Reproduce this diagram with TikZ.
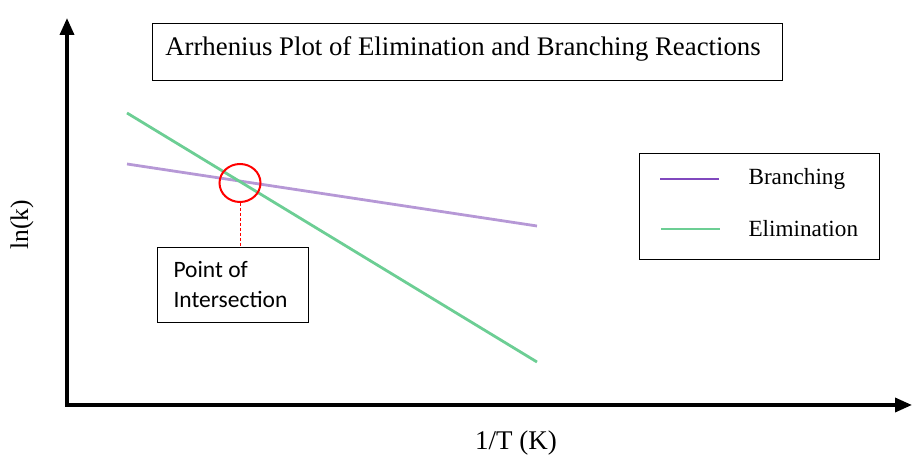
\documentclass[tikz,border=0pt]{standalone}
\usepackage{fontspec}
\setmainfont{Liberation Serif}
\newfontfamily\calib{Carlito}
\usetikzlibrary{arrows.meta,positioning,calc,shapes.geometric}

\definecolor{elimgreen}{RGB}{108,206,148}
\definecolor{branchpurple}{RGB}{182,152,214}
\definecolor{legpurple}{RGB}{128,72,190}

\begin{document}
\begin{tikzpicture}[
    x=1pt, y=1pt,
    axis/.style={line width=3.5pt,-{Triangle[length=17pt,width=14pt]}},
    labelbox/.style={draw,line width=1pt,inner sep=0pt,anchor=north west},
    branch/.style={branchpurple,line width=2.8pt},
    elim/.style={elimgreen,line width=2.8pt},
    marker/.style={draw=red,line width=2pt,ellipse,minimum width=41pt,minimum height=38pt,inner sep=0pt},
  ]
  \useasboundingbox (0,0) rectangle (912,457);

  % --- axes (y measured upward, image height 457) ---
  \coordinate (origin) at (67,52);
  \coordinate (ytop)   at (67,439);
  \coordinate (xend)   at (912,52);
  \draw[axis] (origin) -- (ytop);
  \draw[axis] ([xshift=-1.75pt]origin) -- (xend);

  \node[rotate=90,font=\fontsize{25.5}{28}\selectfont] (ylab) at (22,232) {ln(k)};
  \node[font=\fontsize{27}{30}\selectfont,anchor=south,inner sep=1pt] (xlab) at (516,1) {1/T (K)};

  % --- title ---
  \node[labelbox,minimum width=630pt,minimum height=57pt] (title) at (152,434) {};
  \node[font=\fontsize{26.8}{30}\selectfont] (titletxt) at (463,408) {Arrhenius Plot of Elimination and Branching Reactions};

  % --- data lines ---
  \coordinate (b1) at (127,293);
  \coordinate (b2) at (537,231);
  \coordinate (e1) at (127,344);
  \coordinate (e2) at (537,95);
  \draw[branch] (b1) -- (b2);
  \draw[elim]   (e1) -- (e2);

  % --- intersection marker ---
  \node[marker] (cross) at (240,274) {};
  \node[labelbox,minimum width=151pt,minimum height=75pt] (ptbox) at (157,210) {};
  \node[font=\calib\fontsize{23.5}{30}\selectfont,align=left,anchor=north west] (pttxt) at (170,199) {Point of\\Intersection};
  \draw[red,line width=0.8pt,dash pattern=on 3pt off 2pt] (cross.south) -- (cross.south |- ptbox.north);

  % --- legend ---
  \node[labelbox,minimum width=240pt,minimum height=106pt] (legend) at (639,304) {};
  \coordinate (lb1) at (660,278);
  \coordinate (lb2) at (719,278);
  \coordinate (le1) at (661,228);
  \coordinate (le2) at (720,228);
  \draw[legpurple,line width=1.2pt] (lb1) -- (lb2);
  \draw[elimgreen,line width=2pt]   (le1) -- (le2);
  \node[font=\fontsize{23.2}{26}\selectfont,anchor=west] (lbtxt) at (745,278) {Branching};
  \node[font=\fontsize{23.2}{26}\selectfont,anchor=west] (letxt) at (745,228) {Elimination};

\end{tikzpicture}
\end{document}
